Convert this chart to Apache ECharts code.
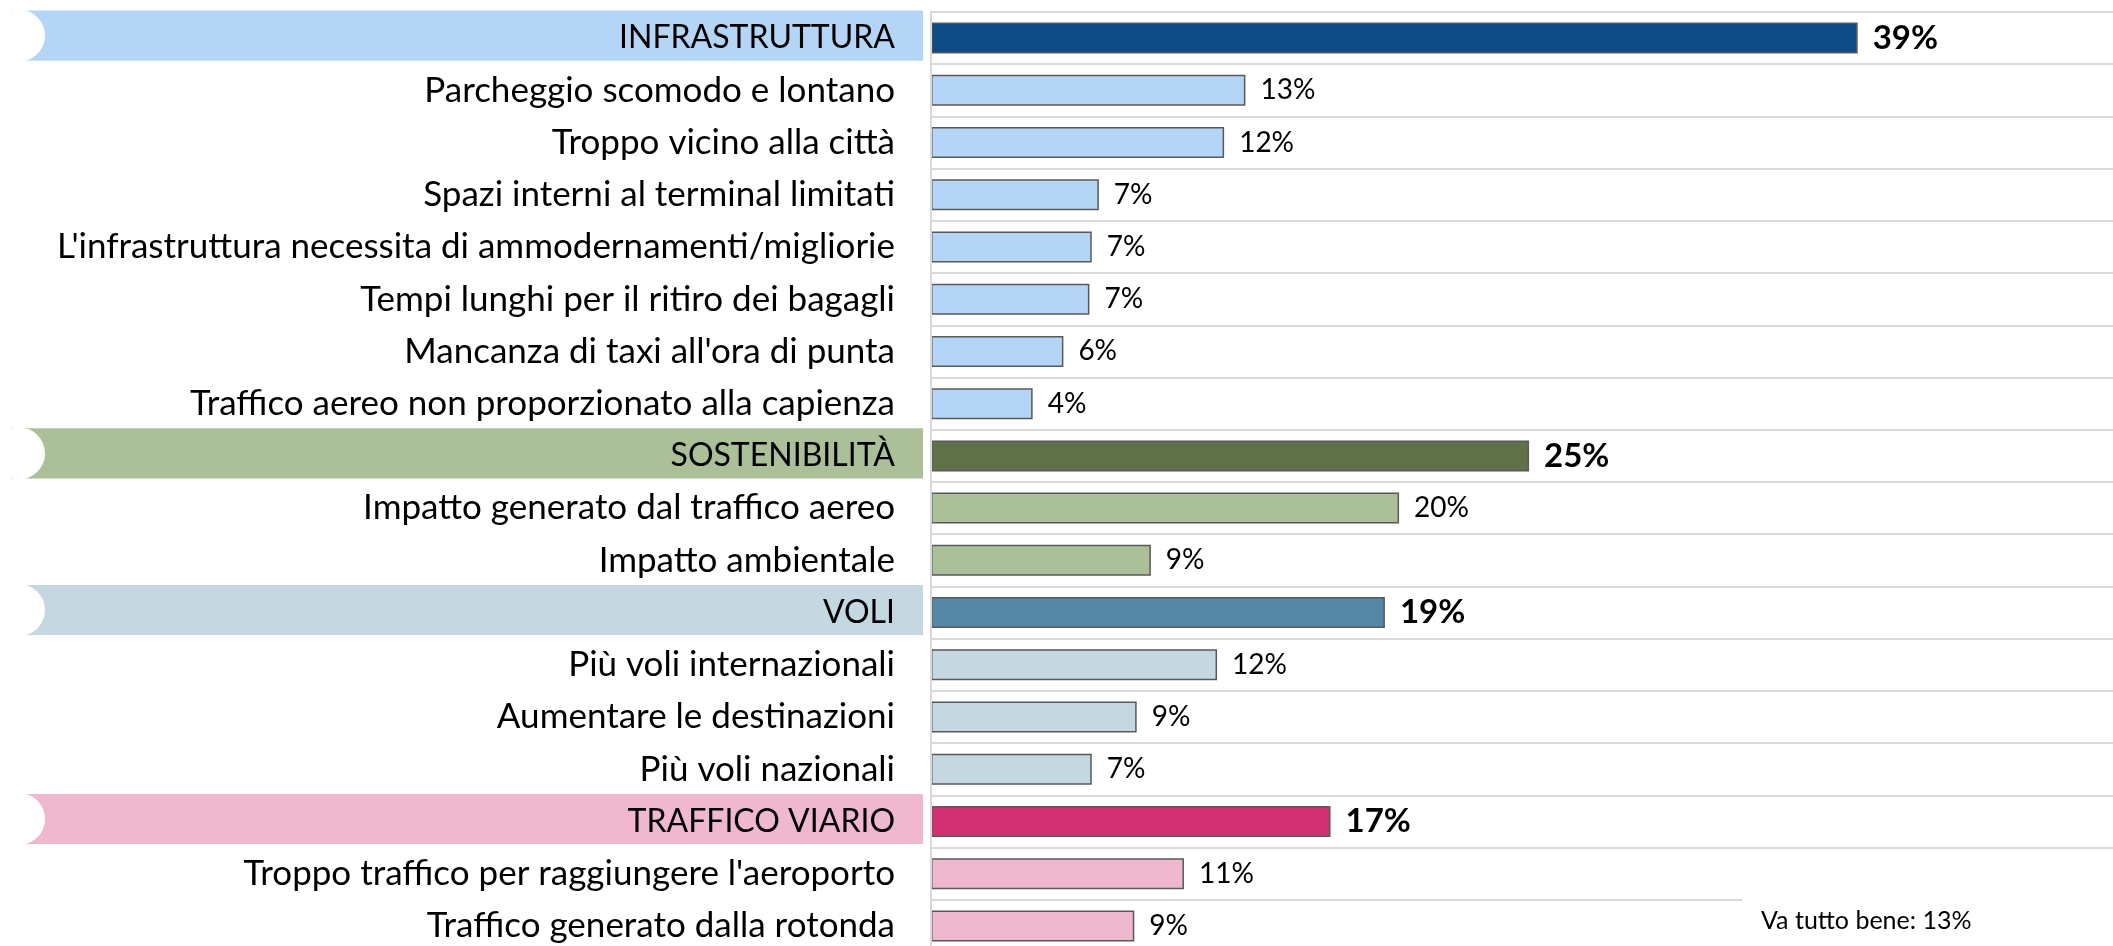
<!DOCTYPE html>
<html>
<head>
<meta charset="utf-8">
<script src="https://cdn.jsdelivr.net/npm/echarts@6/dist/echarts.min.js"></script>
<style>
html, body { margin: 0; padding: 0; background: #fff; overflow: hidden; }
#main { width: 2113px; height: 952px; }
</style>
</head>
<body>
<div id="main"></div>
<script>
// gruppi (barre scure) e relative voci
var groupNames = ['INFRASTRUTTURA', 'SOSTENIBILITÀ', 'VOLI', 'TRAFFICO VIARIO'];
var groupValues = [39.2, 25.3, 19.2, 16.9];

var infraItems = ['Parcheggio scomodo e lontano', 'Troppo vicino alla città', 'Spazi interni al terminal limitati',
	"L'infrastruttura necessita di ammodernamenti/migliorie", 'Tempi lunghi per il ritiro dei bagagli',
	"Mancanza di taxi all'ora di punta", 'Traffico aereo non proporzionato alla capienza'];
var infraValues = [13.3, 12.4, 7.1, 6.8, 6.7, 5.6, 4.3];

var sostItems = ['Impatto generato dal traffico aereo', 'Impatto ambientale'];
var sostValues = [19.8, 9.3];

var voliItems = ['Più voli internazionali', 'Aumentare le destinazioni', 'Più voli nazionali'];
var voliValues = [12.1, 8.7, 6.8];

var trafficoItems = ["Troppo traffico per raggiungere l'aeroporto", 'Traffico generato dalla rotonda'];
var trafficoValues = [10.7, 8.6];

var noteText = 'Va tutto bene: 13%';

// colori: barra gruppo, barre voci / fascia
var darkColors = ['#0f4c87', '#5e7148', '#5687a5', '#d13173'];
var lightColors = ['#b4d5f5', '#abc098', '#c5d7e1', '#efb8cf'];

var groupItems = [infraItems, sostItems, voliItems, trafficoItems];
var groupItemValues = [infraValues, sostValues, voliValues, trafficoValues];

var categories = [];
var barData = [];
var bandData = [];
for (var g = 0; g < groupNames.length; g++) {
	bandData.push([0, categories.length, g]);
	categories.push(groupNames[g]);
	barData.push({
		value: groupValues[g],
		itemStyle: { color: darkColors[g] },
		label: { fontWeight: 'bold', fontSize: 33 }
	});
	for (var i = 0; i < groupItems[g].length; i++) {
		categories.push(groupItems[g][i]);
		barData.push({ value: groupItemValues[g][i], itemStyle: { color: lightColors[g] } });
	}
}

var chart = echarts.init(document.getElementById('main'));
var font = 'Lato, "Open Sans", sans-serif';

chart.setOption({
	backgroundColor: '#fff',
	animation: false,
	grid: { left: 931, right: 0, top: 12, height: 940 },
	xAxis: {
		type: 'value', min: 0, max: 50,
		axisLine: { show: false }, axisTick: { show: false },
		axisLabel: { show: false }, splitLine: { show: false }
	},
	yAxis: {
		type: 'category', inverse: true, data: categories, z: 5,
		axisLine: { show: true, lineStyle: { color: '#d9d9d9', width: 2 } },
		axisTick: { show: false },
		axisLabel: {
			color: '#000', fontSize: 35, fontFamily: font, margin: 36,
			formatter: function (v) { return groupNames.indexOf(v) >= 0 ? '{h|' + v + '}' : v; },
			rich: { h: { color: '#000', fontSize: 32, fontFamily: font } }
		},
		splitLine: { show: true, lineStyle: { color: '#d9d9d9', width: 2 } }
	},
	series: [
		{//fasce colorate dietro le etichette dei gruppi
			type: 'custom', z: 1, clip: false, silent: true,
			data: bandData,
			renderItem: function (params, api) {
				var p = api.coord([0, api.value(1)]);
				var h = api.size([0, 1])[1] * 0.96;
				var yc = p[1] - 2.5;
				return {
					type: 'group',
					children: [
						{ type: 'rect', shape: { x: p[0] - 920, y: yc - h / 2, width: 912, height: h },
							style: { fill: lightColors[api.value(2)] } },
						{ type: 'circle', shape: { cx: p[0] - 912, cy: yc, r: 26 }, style: { fill: '#fff' } }
					]
				};
			}
		},
		{
			type: 'bar', z: 3,
			data: barData,
			barWidth: 31,
			itemStyle: { borderColor: '#595959', borderWidth: 1.5 },
			label: {
				show: true, position: 'right', distance: 15,
				color: '#000', fontSize: 28, fontFamily: font,
				formatter: function (p) { return Math.round(p.value) + '%'; }
			}
		}
	],
	graphic: [
		{ type: 'rect', left: 1742, top: 892, z: 10, shape: { width: 371, height: 60 }, style: { fill: '#fff' } },
		{ type: 'text', left: 1761, top: 908, z: 11,
			style: { text: noteText, fill: '#000', fontSize: 25, fontFamily: font } }
	]
});
</script>
</body>
</html>
